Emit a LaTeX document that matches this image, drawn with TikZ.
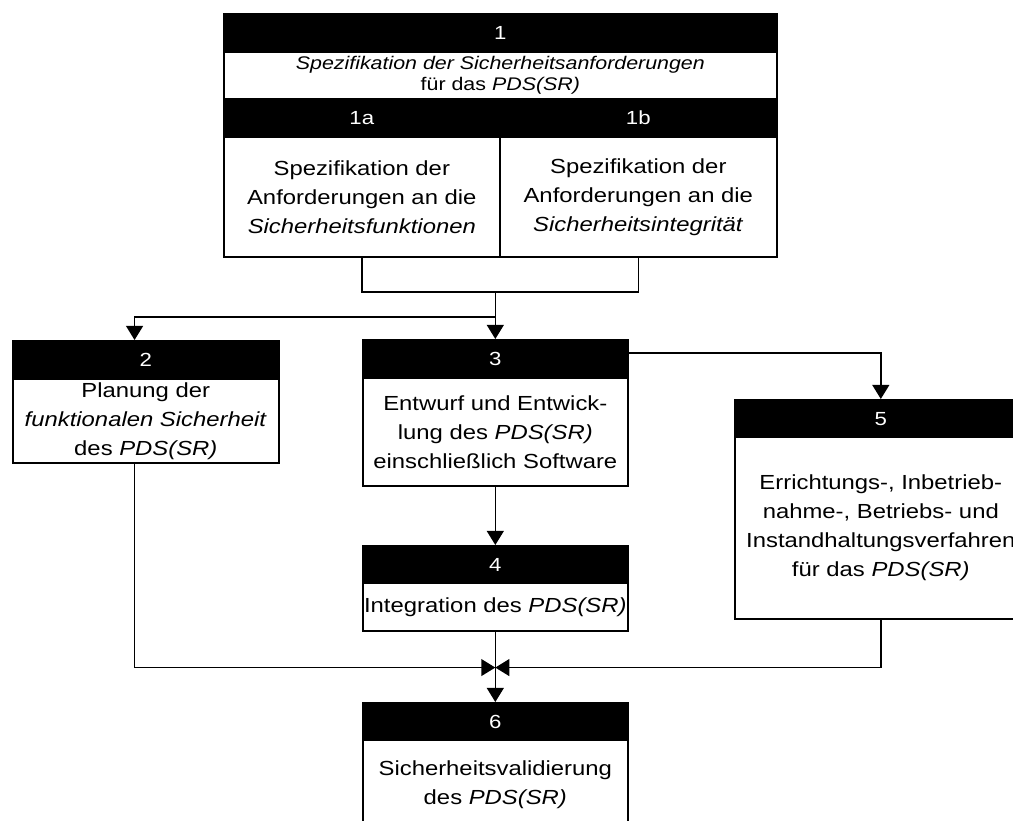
\documentclass[tikz,border=0pt]{standalone}
\usepackage{fontspec}
\setmainfont{Liberation Sans}[FakeStretch=1.17]
\usetikzlibrary{arrows.meta}

\tikzset{
    hdr/.style={draw, fill=black, text=white, line width=1.1pt, anchor=north west,
        minimum width=#1, minimum height=0.95cm, inner sep=0pt,
        font=\fontsize{13.5}{15}\selectfont},
    body/.style={draw, fill=white, line width=1.1pt, anchor=north west,
        minimum width=#1, inner sep=0pt, align=center,
        font=\fontsize{14.5}{20.6}\selectfont},
    conn/.style={line width=1.1pt},
    arr/.style={line width=1.1pt, -{Triangle[width=12pt,length=10pt]}}
}

\begin{document}
\begin{tikzpicture}[x=0.025cm, y=-0.025cm]
    \useasboundingbox (0,0) rectangle (1013,821);
    \clip (0,0) rectangle (1013,821);

    % -- box 1: specification (1, 1a, 1b) -------------------------------------
    \node[hdr=13.825cm] (h1) at (223,13) {1};
    \node[body=13.825cm, minimum height=1.175cm, font=\fontsize{13}{15.6}\selectfont]
        (t1) at (223,51) {\textit{Spezifikation der Sicherheitsanforderungen}\\für das \textit{PDS(SR)}};
    \node[hdr=6.9cm] (h1a) at (223,98) {1a};
    \node[hdr=6.925cm] (h1b) at (499,98) {1b};
    \node[body=6.9cm, minimum height=3cm] (b1a) at (223,136)
        {Spezifikation der\\Anforderungen an die\\\textit{Sicherheitsfunktionen}};
    \node[body=6.925cm, minimum height=3cm] (b1b) at (499,136)
        {Spezifikation der\\Anforderungen an die\\\textit{Sicherheitsintegrität}};

    % -- box 2: planning -------------------------------------------------------
    \node[hdr=6.65cm] (h2) at (12,340) {2};
    \node[body=6.65cm, minimum height=2.1cm] (b2) at (12,378)
        {Planung der\\\textit{funktionalen Sicherheit}\\des \textit{PDS(SR)}};

    % -- box 3: design ---------------------------------------------------------
    \node[hdr=6.625cm] (h3) at (362,339) {3};
    \node[body=6.625cm, minimum height=2.7cm] (b3) at (362,377)
        {Entwurf und Entwick-\\lung des \textit{PDS(SR)}\\einschließlich Software};

    % -- box 4: integration ----------------------------------------------------
    \node[hdr=6.625cm] (h4) at (362,545) {4};
    \node[body=6.625cm, minimum height=1.2cm] (b4) at (362,582)
        {Integration des \textit{PDS(SR)}};

    % -- box 5: procedures -----------------------------------------------------
    \node[hdr=7.3cm] (h5) at (734,399) {5};
    \node[body=7.3cm, minimum height=4.55cm] (b5) at (734,436)
        {Errichtungs-, Inbetrieb-\\nahme-, Betriebs- und\\Instandhaltungsverfahren\\für das \textit{PDS(SR)}};

    % -- box 6: validation -----------------------------------------------------
    \node[hdr=6.625cm] (h6) at (362,702) {6};
    \node[body=6.625cm, minimum height=2.25cm] (b6) at (362,739)
        {Sicherheitsvalidierung\\des \textit{PDS(SR)}};

    % -- connectors ------------------------------------------------------------
    \path (h3.north) ++(0,-47) coordinate (m1);
    \path (h3.north) ++(0,-22) coordinate (sp);
    \path (b4.south) ++(0,36) coordinate (jn);

    \draw[conn] (b1a.south) |- (m1) -| (b1b.south);
    \draw[conn] (m1) -- (sp);
    \draw[arr] (sp) -| ([xshift=-8pt]h2.north);
    \draw[arr] (sp) -- (h3.north);
    \draw[arr] ([yshift=4pt]h3.east) -| (h5.north);
    \draw[arr] (b3.south) -- (h4.north);
    \draw[arr] (b4.south) -- (h6.north);
    \draw[arr] ([xshift=-8pt]b2.south) |- (jn);
    \draw[arr] (b5.south) |- (jn);
\end{tikzpicture}
\end{document}
